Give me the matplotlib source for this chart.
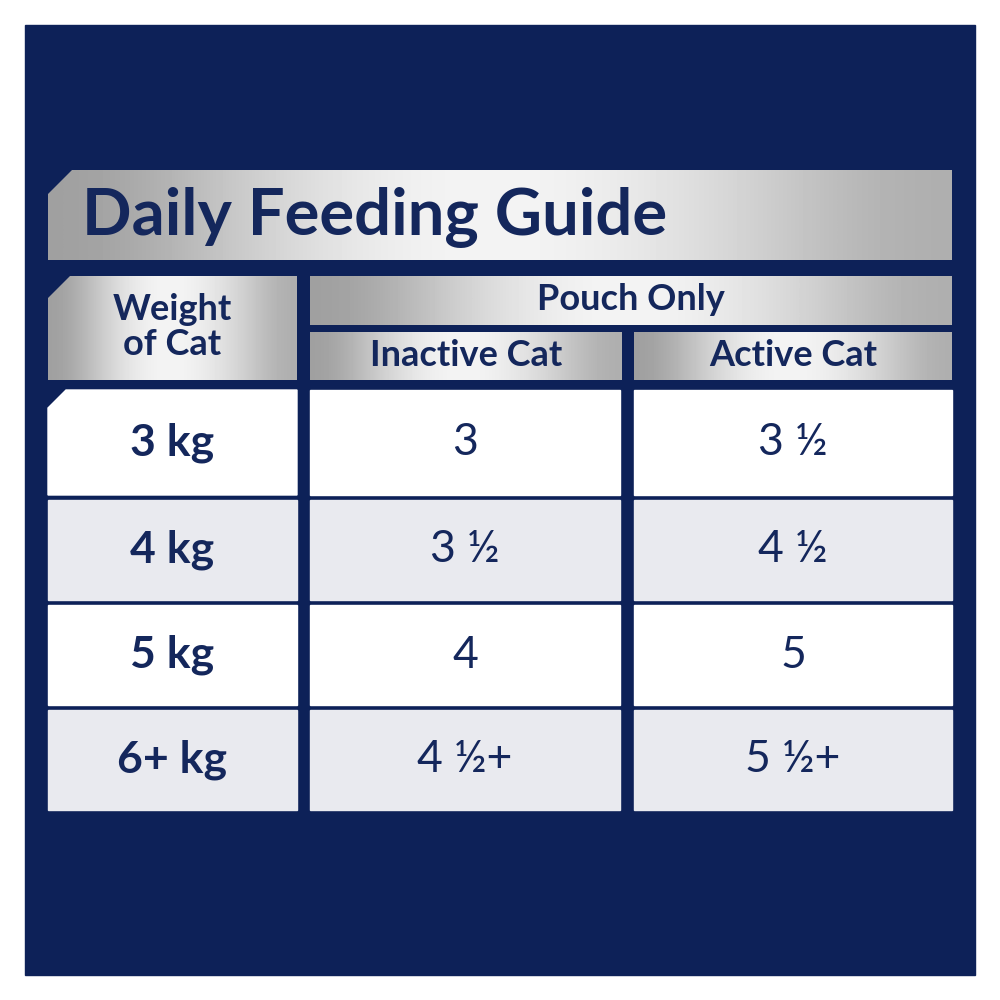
import matplotlib
matplotlib.use("Agg")
import matplotlib.pyplot as plt
import numpy as np
from matplotlib.patches import Polygon, Rectangle

title = "Daily Feeding Guide"
col_header = "Weight\nof Cat"
group_header = "Pouch Only"
sub_headers = ["Inactive Cat", "Active Cat"]
weights = ["3 kg", "4 kg", "5 kg", "6+ kg"]
inactive = ["3", "3 ½", "4", "4 ½+"]
active = ["3 ½", "4 ½", "5", "5 ½+"]

NAVY = "#0d2158"
TEXT = "#14275c"
plt.rcParams['font.family'] = ['Lato', 'DejaVu Sans']

fig = plt.figure(figsize=(10, 10), dpi=100)
ax = fig.add_axes([0, 0, 1, 1])
ax.set_xlim(0, 1000); ax.set_ylim(1000, 0); ax.axis("off")
ax.add_patch(Rectangle((25, 25), 950, 950, color=NAVY))

grad = np.array([[0.62, 0.8, 0.93, 0.97, 0.92, 0.82, 0.68]])
def metal(poly_pts):
    x0 = min(p[0] for p in poly_pts); x1 = max(p[0] for p in poly_pts)
    y0 = min(p[1] for p in poly_pts); y1 = max(p[1] for p in poly_pts)
    poly = Polygon(poly_pts, closed=True, facecolor="none", edgecolor="none")
    ax.add_patch(poly)
    im = ax.imshow(grad, cmap="gray", vmin=0, vmax=1, extent=(x0, x1, y1, y0),
                   aspect="auto", interpolation="bicubic", zorder=2)
    im.set_clip_path(poly)

def chamfer(x0, y0, x1, y1, c=22):
    return [(x0, y0 + c), (x0 + c, y0), (x1, y0), (x1, y1), (x0, y1)]

metal(chamfer(48, 170, 952, 260, 24))
ax.text(82, 217, title, fontsize=47, fontweight="bold", color=TEXT, va="center", ha="left", zorder=5)

metal(chamfer(48, 276, 297, 380, 22))
ax.text(172, 327, col_header, fontsize=26, fontweight="bold", color=TEXT, ha="center", va="center",
        linespacing=1.05, zorder=5)
metal([(310, 276), (952, 276), (952, 325), (310, 325)])
ax.text(631, 299, group_header, fontsize=26, fontweight="bold", color=TEXT, ha="center", va="center", zorder=5)
cols = [(310, 622), (634, 952)]
for (a, b), s in zip(cols, sub_headers):
    metal([(a, 332), (b, 332), (b, 380), (a, 380)])
    ax.text((a + b) / 2, 356, s, fontsize=26, fontweight="bold", color=TEXT, ha="center", va="center", zorder=5)

rows = [(390, 495), (500, 600), (605, 705), (710, 810)]
fills = ["white", "#e9eaef", "white", "#e9eaef"]
for i, ((y0, y1), f) in enumerate(zip(rows, fills)):
    pts = chamfer(48, y0, 297, y1, 18) if i == 0 else [(48, y0), (297, y0), (297, y1), (48, y1)]
    ax.add_patch(Polygon(pts, closed=True, color=f, zorder=2))
    ax.text(172, (y0 + y1) / 2, weights[i], fontsize=32, fontweight="bold", color=TEXT, ha="center", va="center", zorder=5)
    for (a, b), vals in zip([(310, 620), (634, 952)], [inactive, active]):
        ax.add_patch(Rectangle((a, y0), b - a, y1 - y0, color=f, zorder=2))
        ax.text((a + b) / 2, (y0 + y1) / 2, vals[i], fontsize=32, color=TEXT, ha="center", va="center", zorder=5)

fig.savefig("out.png", dpi=100, facecolor="white")
